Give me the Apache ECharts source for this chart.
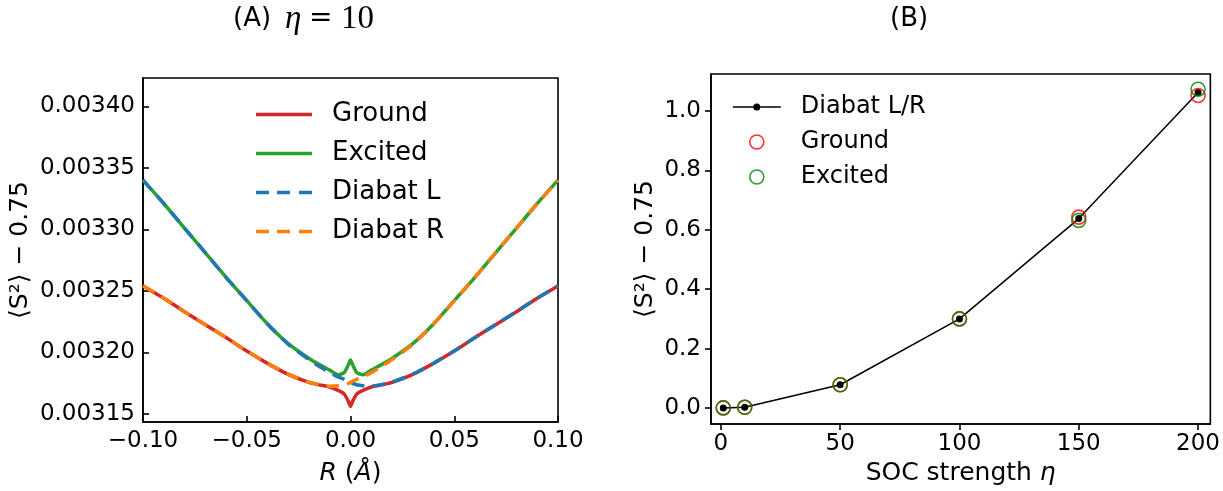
<!DOCTYPE html>
<html><head><meta charset="utf-8">
<script src="https://cdn.jsdelivr.net/npm/echarts@6/dist/echarts.min.js"></script>
<style>html,body{margin:0;padding:0;background:#fff}#c{width:1223px;height:491px}</style>
</head><body><div id="c"></div>
<script>
// ---------- Panel (A): <S^2>-0.75 vs R at eta = 10 ----------
const rValues = [-0.100,-0.090,-0.080,-0.070,-0.060,-0.050,-0.040,-0.030,-0.020,-0.015,-0.010,-0.006,-0.003,-0.001,0.000,0.001,0.003,0.006,0.010,0.015,0.020,0.030,0.040,0.050,0.060,0.070,0.080,0.090,0.100];
const groundA = [0.0032540,0.0032440,0.0032330,0.0032225,0.0032120,0.0032010,0.0031910,0.0031820,0.0031755,0.0031735,0.0031718,0.0031690,0.0031660,0.0031600,0.0031560,0.0031600,0.0031660,0.0031690,0.0031718,0.0031735,0.0031755,0.0031820,0.0031910,0.0032010,0.0032120,0.0032225,0.0032330,0.0032440,0.0032540];
const excitedA = [0.0033400,0.0033210,0.0033010,0.0032810,0.0032610,0.0032420,0.0032230,0.0032070,0.0031950,0.0031900,0.0031855,0.0031818,0.0031835,0.0031900,0.0031937,0.0031900,0.0031835,0.0031818,0.0031855,0.0031900,0.0031950,0.0032070,0.0032230,0.0032420,0.0032610,0.0032810,0.0033010,0.0033210,0.0033400];
const diabatL = [0.0033400,0.0033210,0.0033010,0.0032810,0.0032610,0.0032420,0.0032230,0.0032065,0.0031940,0.0031885,0.0031835,0.0031800,0.0031780,0.0031765,0.0031755,0.0031748,0.0031736,0.0031728,0.0031724,0.0031738,0.0031758,0.0031822,0.0031911,0.0032011,0.0032121,0.0032226,0.0032331,0.0032441,0.0032541];
const diabatR = [0.0032541,0.0032441,0.0032331,0.0032226,0.0032121,0.0032011,0.0031911,0.0031822,0.0031758,0.0031738,0.0031724,0.0031728,0.0031736,0.0031748,0.0031755,0.0031765,0.0031780,0.0031800,0.0031835,0.0031885,0.0031940,0.0032065,0.0032230,0.0032420,0.0032610,0.0032810,0.0033010,0.0033210,0.0033400];
const rTicks = [-0.10,-0.05,0.00,0.05,0.10];
const sTicksA = [0.00315,0.00320,0.00325,0.00330,0.00335,0.00340];

// ---------- Panel (B): <S^2>-0.75 vs SOC strength ----------
const etaValues = [1,10,50,100,150,200];
const diabatB  = [0.000,0.002,0.078,0.300,0.638,1.063];
const groundB  = [0.000,0.002,0.078,0.300,0.643,1.053];
const excitedB = [0.000,0.002,0.078,0.300,0.632,1.074];
const etaTicks = [0,50,100,150,200];
const sTicksB = [0.0,0.2,0.4,0.6,0.8,1.0];

const FONT = 'DejaVu Sans';
const pairs = (xs, ys) => xs.map((x, i) => [x, ys[i]]);
const minus = s => s.replace('-', '\u2212');

const chart = echarts.init(document.getElementById('c'), null, {renderer: 'canvas'});

const solidIcon = 'path://M71,3.5M0,0H56V3.5H0Z';
const dashIcon = 'path://M71,3.5M0,0H13V3.5H0ZM21,0H34V3.5H21ZM43,0H56V3.5H43Z';
const dotLineIcon = 'path://M0,0M63,14M0,6.25H48V7.75H0ZM27.5,7A3.5,3.5 0 1 1 20.5,7A3.5,3.5 0 1 1 27.5,7Z';
const ringIcon = 'path://M0,0M63,14M31,7A7,7 0 1 1 17,7A7,7 0 1 1 31,7Z';

const axisCommon = {
  splitLine: {show: false},
  axisLine: {show: true, onZero: false, lineStyle: {color: '#000', width: 1.6}},
};
const titleStyle = (extra) => Object.assign({fontWeight: 'normal', color: '#000'}, extra);

chart.setOption({
  animation: false,
  backgroundColor: '#fff',
  textStyle: {fontFamily: FONT, color: '#000'},
  title: [
    {text: '(A)', left: 233, top: 6, padding: 0, textStyle: titleStyle({fontFamily: FONT, fontSize: 26})},
    {text: '\u03b7', left: 285, top: 3, padding: 0, textStyle: titleStyle({fontFamily: 'Liberation Serif', fontStyle: 'italic', fontSize: 33})},
    {text: '=', left: 309, top: 5, padding: 0, textStyle: titleStyle({fontFamily: 'DejaVu Serif', fontSize: 28})},
    {text: '10', left: 341, top: 3, padding: 0, textStyle: titleStyle({fontFamily: 'Liberation Serif', fontSize: 33})},
    {text: '(B)', left: 890, top: 6, padding: 0, textStyle: titleStyle({fontFamily: FONT, fontSize: 26})}
  ],
  grid: [
    {left: 143, top: 78, width: 415, height: 348, show: true, borderColor: '#000', borderWidth: 1.6, containLabel: false},
    {left: 711, top: 74, width: 500, height: 355, show: true, borderColor: '#000', borderWidth: 1.6, containLabel: false}
  ],
  xAxis: [
    Object.assign({}, axisCommon, {
      gridIndex: 0, type: 'value', min: -0.1, max: 0.1,
      axisTick: {show: true, inside: true, length: 6, lineStyle: {color: '#000', width: 1.6}, customValues: rTicks},
      axisLabel: {customValues: rTicks, fontSize: 23, color: '#000', fontFamily: FONT, margin: 8,
        formatter: v => minus(v.toFixed(2))},
      name: '{i|R} ({i|\u00c5})', nameLocation: 'middle', nameGap: 39,
      nameTextStyle: {fontSize: 25, color: '#000', fontFamily: FONT, rich: {i: {fontStyle: 'italic', fontSize: 25, fontFamily: FONT}}}
    }),
    Object.assign({}, axisCommon, {
      gridIndex: 1, type: 'value', min: -4.14, max: 205.15,
      axisTick: {show: true, inside: false, length: 6, lineStyle: {color: '#000', width: 1.6}, customValues: etaTicks},
      axisLabel: {customValues: etaTicks, fontSize: 23, color: '#000', fontFamily: FONT, margin: 9,
        formatter: v => String(Math.round(v))},
      name: 'SOC strength {i|\u03b7}', nameLocation: 'middle', nameGap: 37,
      nameTextStyle: {fontSize: 25, color: '#000', fontFamily: FONT, rich: {i: {fontStyle: 'italic', fontSize: 25, fontFamily: FONT}}}
    })
  ],
  yAxis: [
    Object.assign({}, axisCommon, {
      gridIndex: 0, type: 'value', min: 0.00314333, max: 0.00342307,
      axisTick: {show: true, inside: true, length: 6, lineStyle: {color: '#000', width: 1.6}, customValues: sTicksA},
      axisLabel: {customValues: sTicksA, fontSize: 23, color: '#000', fontFamily: FONT, margin: 8,
        formatter: v => v.toFixed(5)},
      name: '\u27e8S\u00b2\u27e9 \u2212 0.75', nameLocation: 'middle', nameRotate: 90, nameGap: 110,
      nameTextStyle: {fontSize: 25, color: '#000', fontFamily: FONT}
    }),
    Object.assign({}, axisCommon, {
      gridIndex: 1, type: 'value', min: -0.0542, max: 1.1253,
      axisTick: {show: true, inside: false, length: 6, lineStyle: {color: '#000', width: 1.6}, customValues: sTicksB},
      axisLabel: {customValues: sTicksB, fontSize: 23, color: '#000', fontFamily: FONT, margin: 10,
        formatter: v => v.toFixed(1)},
      name: '\u27e8S\u00b2\u27e9 \u2212 0.75', nameLocation: 'middle', nameRotate: 90, nameGap: 53,
      nameTextStyle: {fontSize: 25, color: '#000', fontFamily: FONT}
    })
  ],
  legend: [
    {
      orient: 'vertical', left: 256, top: 95, padding: 0, itemWidth: 71, itemHeight: 3.5, itemGap: 0,
      selectedMode: false, itemStyle: {borderWidth: 0},
      textStyle: {fontSize: 26, fontFamily: FONT, color: '#000', lineHeight: 39},
      data: [
        {name: 'Ground', icon: solidIcon},
        {name: 'Excited', icon: solidIcon},
        {name: 'Diabat L', icon: dashIcon},
        {name: 'Diabat R', icon: dashIcon}
      ]
    },
    {
      orient: 'vertical', left: 732, top: 89.5, padding: 0, itemWidth: 63, itemHeight: 14, itemGap: 0,
      selectedMode: false,
      textStyle: {fontSize: 24, fontFamily: FONT, color: '#000', lineHeight: 35},
      formatter: name => name.replace(' (B)', ''),
      data: [
        {name: 'Diabat L/R', icon: dotLineIcon, itemStyle: {color: '#000', borderWidth: 0}},
        {name: 'Ground (B)', icon: ringIcon, itemStyle: {color: 'rgba(0,0,0,0)', borderColor: '#ff0000', borderWidth: 1.6}},
        {name: 'Excited (B)', icon: ringIcon, itemStyle: {color: 'rgba(0,0,0,0)', borderColor: '#008000', borderWidth: 1.6}}
      ]
    }
  ],
  series: [
    {name: 'Ground', type: 'line', xAxisIndex: 0, yAxisIndex: 0, data: pairs(rValues, groundA),
      symbol: 'none', smooth: 0.2, color: '#d62728', lineStyle: {color: '#d62728', width: 3.5}, z: 2},
    {name: 'Excited', type: 'line', xAxisIndex: 0, yAxisIndex: 0, data: pairs(rValues, excitedA),
      symbol: 'none', smooth: 0.2, color: '#2ca02c', lineStyle: {color: '#2ca02c', width: 3.5}, z: 3},
    {name: 'Diabat L', type: 'line', xAxisIndex: 0, yAxisIndex: 0, data: pairs(rValues, diabatL),
      symbol: 'none', smooth: 0.2, color: '#1f77b4', lineStyle: {color: '#1f77b4', width: 3.5, type: [13, 8]}, z: 4},
    {name: 'Diabat R', type: 'line', xAxisIndex: 0, yAxisIndex: 0, data: pairs(rValues, diabatR),
      symbol: 'none', smooth: 0.2, color: '#ff7f0e', lineStyle: {color: '#ff7f0e', width: 3.5, type: [13, 8]}, z: 5},
    {name: 'Diabat L/R', type: 'line', xAxisIndex: 1, yAxisIndex: 1, data: pairs(etaValues, diabatB),
      symbol: 'circle', symbolSize: 7, showSymbol: true, color: '#000',
      itemStyle: {color: '#000', borderWidth: 0}, lineStyle: {color: '#000', width: 1.5}, z: 4},
    {name: 'Ground (B)', type: 'scatter', xAxisIndex: 1, yAxisIndex: 1, data: pairs(etaValues, groundB),
      symbol: 'circle', symbolSize: 14, itemStyle: {color: 'rgba(0,0,0,0)', borderColor: '#ff0000', borderWidth: 1.6}, z: 5},
    {name: 'Excited (B)', type: 'scatter', xAxisIndex: 1, yAxisIndex: 1, data: pairs(etaValues, excitedB),
      symbol: 'circle', symbolSize: 14, itemStyle: {color: 'rgba(0,0,0,0)', borderColor: '#008000', borderWidth: 1.6}, z: 6}
  ]
});
</script>
</body></html>
